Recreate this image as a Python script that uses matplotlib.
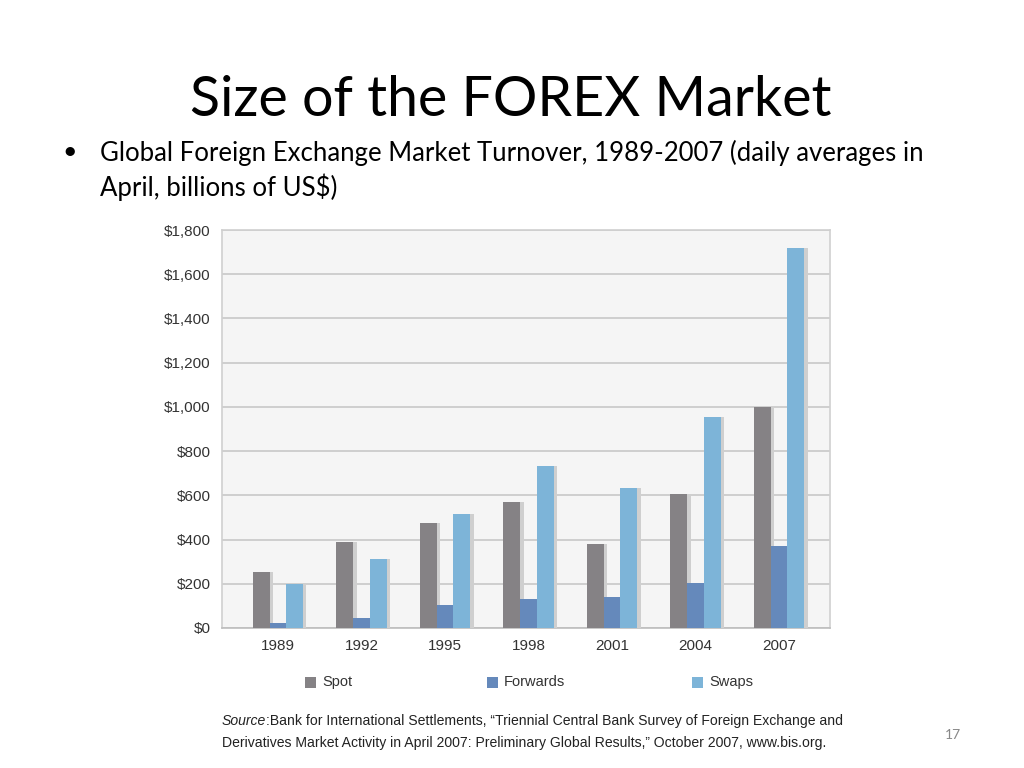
import matplotlib
matplotlib.use("Agg")
import matplotlib.pyplot as plt
import matplotlib.patheffects as pe
from matplotlib.patches import Rectangle
import numpy as np

years = ["1989", "1992", "1995", "1998", "2001", "2004", "2007"]
spot = [255, 387, 476, 571, 381, 605, 1001]
forwards = [21, 43, 103, 131, 141, 202, 369]
swaps = [200, 311, 514, 734, 631, 953, 1717]
series_names = ["Spot", "Forwards", "Swaps"]
colors = ["#858285", "#6589bb", "#7db4d8"]
yticks = [0, 200, 400, 600, 800, 1000, 1200, 1400, 1600, 1800]
ytick_labels = ["$0", "$200", "$400", "$600", "$800", "$1,000", "$1,200", "$1,400", "$1,600", "$1,800"]

W, H = 1024, 768
fig = plt.figure(figsize=(W / 100, H / 100), dpi=100)
fig.patch.set_facecolor("white")

chart_font = ["Liberation Sans Narrow", "Liberation Sans", "DejaVu Sans"]
slide_font = ["Lato", "Open Sans", "DejaVu Sans"]

# Title and bullet
fig.text(511 / W, 1 - 100 / H, "Size of the FOREX Market", ha="center", va="center",
         fontsize=40, family=slide_font, color="black")
fig.text(62 / W, 1 - 151 / H, "\u2022", ha="left", va="center", fontsize=18,
         family=slide_font, color="black")
fig.text(100 / W, 1 - 153 / H,
         "Global Foreign Exchange Market Turnover, 1989-2007 (daily averages in",
         ha="left", va="center", fontsize=18.5, family=slide_font, color="black")
fig.text(100 / W, 1 - 187 / H, "April, billions of US$)",
         ha="left", va="center", fontsize=18.5, family=slide_font, color="black")

# Axes
ax = fig.add_axes([222 / W, 1 - 628 / H, (830 - 222) / W, (628 - 230) / H])
ax.set_facecolor("#f5f5f5")
x = np.arange(len(years))
bw = 0.2
shadow = [pe.SimplePatchShadow(offset=(2.5, 0), shadow_rgbFace="#cfcfcf", alpha=1.0), pe.Normal()]
for i, (vals, c) in enumerate(zip([spot, forwards, swaps], colors)):
    bars = ax.bar(x + (i - 1) * bw, vals, width=bw, color=c, zorder=3, linewidth=0)
    for b in bars:
        b.set_path_effects(shadow)

ax.set_xlim(-0.67, 6.61)
ax.set_ylim(0, 1800)
ax.set_yticks(yticks)
ax.set_yticklabels(ytick_labels)
ax.set_xticks(x)
ax.set_xticklabels(years)
ax.grid(axis="y", color="#c8c8c8", linewidth=1.2, zorder=0)
ax.tick_params(axis="both", length=0, labelsize=11, labelcolor="#333333")
ax.tick_params(axis="x", pad=8)
ax.tick_params(axis="y", pad=8)
for lab in ax.get_xticklabels() + ax.get_yticklabels():
    lab.set_family(chart_font)
for s in ["top", "right", "left", "bottom"]:
    ax.spines[s].set_color("#d0d0d0")
    ax.spines[s].set_linewidth(1.2)
ax.spines["bottom"].set_color("#bdbdbd")

# Legend (manual placement)
leg_x = [305, 487, 692]
for lx, name, c in zip(leg_x, series_names, colors):
    fig.patches.append(Rectangle((lx / W, 1 - 688 / H), 11 / W, 11 / H,
                                 transform=fig.transFigure, facecolor=c, edgecolor="none"))
    fig.text((lx + 17) / W, 1 - 682 / H, name, ha="left", va="center", fontsize=10.5,
             family=chart_font, color="#333333")

# Source
src_fs = 10.1
t1 = fig.text(222 / W, 1 - 721 / H, "Source", ha="left", va="center", fontsize=src_fs,
              family=chart_font, style="italic", color="#222222")
ax.annotate(":Bank for International Settlements, \u201cTriennial Central Bank Survey of Foreign Exchange and",
            xy=(1, 0.5), xycoords=t1, ha="left", va="center", fontsize=src_fs,
            family=chart_font, color="#222222", annotation_clip=False)
fig.text(222 / W, 1 - 743 / H,
         "Derivatives Market Activity in April 2007: Preliminary Global Results,\u201d October 2007, www.bis.org.",
         ha="left", va="center", fontsize=src_fs, family=chart_font, color="#222222")

fig.text(953 / W, 1 - 735 / H, "17", ha="center", va="center", fontsize=10,
         family=slide_font, color="#888888")

fig.savefig("out.png", dpi=100)
